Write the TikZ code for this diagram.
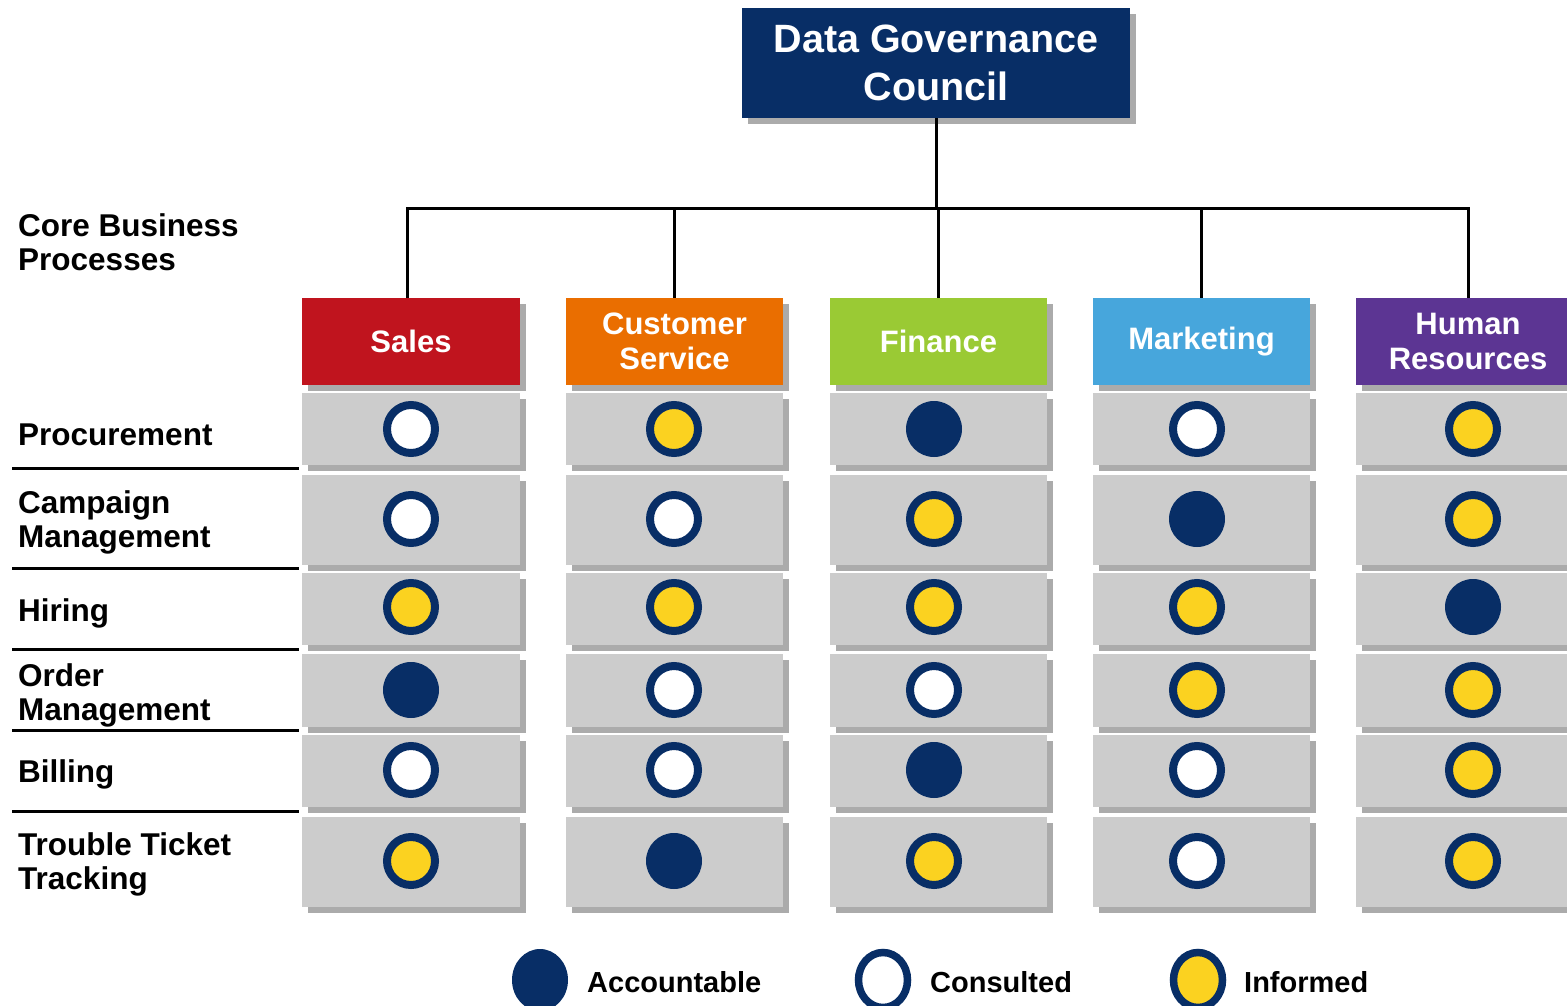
\documentclass[tikz,border=0pt]{standalone}
\usepackage{fontspec}
\setmainfont{Liberation Sans}
\usetikzlibrary{shadows}
\definecolor{navy}{HTML}{082E66}
\definecolor{infoyel}{HTML}{FBD220}
\definecolor{cellgray}{HTML}{CCCCCC}
\definecolor{shadowgray}{HTML}{ABABAB}
\definecolor{salesred}{HTML}{C0141E}
\definecolor{csorange}{HTML}{EA6E00}
\definecolor{fingreen}{HTML}{9ACA34}
\definecolor{mktblue}{HTML}{47A6DC}
\definecolor{hrpurple}{HTML}{5C3593}
\newcommand{\twolines}[2]{\vtop{\hbox{#1}\hbox{#2}}}
\tikzset{
  box/.style={rectangle, inner sep=0pt, draw=none,
    general shadow={fill=shadowgray, shadow xshift=6pt, shadow yshift=-6pt}},
  titlebox/.style={box, fill=navy, text=white, align=center,
    font=\fontsize{39.5}{48}\selectfont\bfseries, minimum width=388pt, minimum height=110pt},
  head/.style={box, text=white, align=center, font=\fontsize{31}{35}\selectfont\bfseries,
    minimum height=87pt},
  cell/.style={box, fill=cellgray, minimum width=218pt},
  rowlab/.style={anchor=base west, inner sep=0pt,
    font=\fontsize{31.5}{34.5}\selectfont\bfseries},
  conn/.style={line width=3pt, black},
  sep/.style={line width=3pt, black},
  acc/.style={circle, fill=navy, minimum size=56pt, inner sep=0pt},
  cons/.style={circle, draw=navy, line width=8pt, fill=white, minimum size=48pt, inner sep=0pt},
  inf/.style={circle, draw=navy, line width=8pt, fill=infoyel, minimum size=48pt, inner sep=0pt},
  legtext/.style={anchor=base west, inner sep=0pt, font=\fontsize{29}{32}\selectfont\bfseries},
}
\begin{document}
\begin{tikzpicture}[x=1pt, y=-1pt]
\useasboundingbox (0,0) rectangle (1567,1006);
% title
\node[titlebox] (title) at (936,63) {Data Governance\\Council};
% headers
\node[head, fill=salesred, minimum width=218pt] (h1) at (411,341.5) {Sales};
\node[head, fill=csorange, minimum width=217pt] (h2) at (674.5,341.5) {Customer\\Service};
\node[head, fill=fingreen, minimum width=217pt] (h3) at (938.5,341.5) {Finance};
\node[head, fill=mktblue, minimum width=217pt] (h4) at (1201.5,341.5) {Marketing};
\node[head, fill=hrpurple, minimum width=224pt] (h5) at (1468,341.5) {Human\\Resources};
% connectors
\coordinate (bus) at (936,208);
\coordinate (d1) at (407,298);
\draw[conn] (title.south) -- (bus);
\draw[conn] (d1) |- (h5.north |- bus) -- (h5.north);
\foreach \h in {h2,h3,h4} { \draw[conn] (\h.north) -- (\h.north |- bus); }
% section label
\node[rowlab] (cbp) at (18,236) {\twolines{Core Business}{Processes}};
% cells
\foreach \r/\yc/\hh in {1/429/72, 2/520/90, 3/609/72, 4/690.5/73, 5/771/72, 6/862/90} {
  \foreach \c/\xc/\ww in {1/411/218, 2/674.5/217, 3/938.5/217, 4/1201.5/217, 5/1468/224} {
    \node[cell, minimum width=\ww pt, minimum height=\hh pt] (c\r\c) at (\xc,\yc) {};
  }
}
% row labels
\node[rowlab] (l1) at (18,445) {Procurement};
\node[rowlab] (l2) at (18,513) {\twolines{Campaign}{Management}};
\node[rowlab] (l3) at (18,621) {Hiring};
\node[rowlab] (l4) at (18,686) {\twolines{Order}{Management}};
\node[rowlab] (l5) at (18,782) {Billing};
\node[rowlab] (l6) at (18,855) {\twolines{Trouble Ticket}{Tracking}};
% separators
\foreach \y [count=\i] in {468,568,649,730,811} {
  \coordinate (sa\i) at (12,\y); \coordinate (sb\i) at (299,\y);
  \draw[sep] (sa\i) -- (sb\i);
}
% matrix of circles
\foreach \r/\yc/\k in {1/429/{cons,inf,acc,cons,inf},
                        2/519/{cons,cons,inf,acc,inf},
                        3/607/{inf,inf,inf,inf,acc},
                        4/690/{acc,cons,cons,inf,inf},
                        5/770/{cons,cons,acc,cons,inf},
                        6/861/{inf,acc,inf,cons,inf}} {
  \foreach \s [count=\c] in \k {
    \pgfmathsetmacro{\xc}{{411,674,934,1197,1473}[\c-1]}
    \node[\s] (m\r\c) at (\xc,\yc) {};
  }
}
% legend
\fill[navy] (540,980) ellipse [x radius=28, y radius=31];
\node[legtext] (la) at (587,992) {Accountable};
\draw[navy, line width=7.5pt, fill=white] (883,980) ellipse [x radius=24.5, y radius=27.5];
\node[legtext] (lc) at (930,992) {Consulted};
\draw[navy, line width=7.5pt, fill=infoyel] (1198,980) ellipse [x radius=24.5, y radius=27.5];
\node[legtext] (li) at (1244,992) {Informed};
\end{tikzpicture}
\end{document}
